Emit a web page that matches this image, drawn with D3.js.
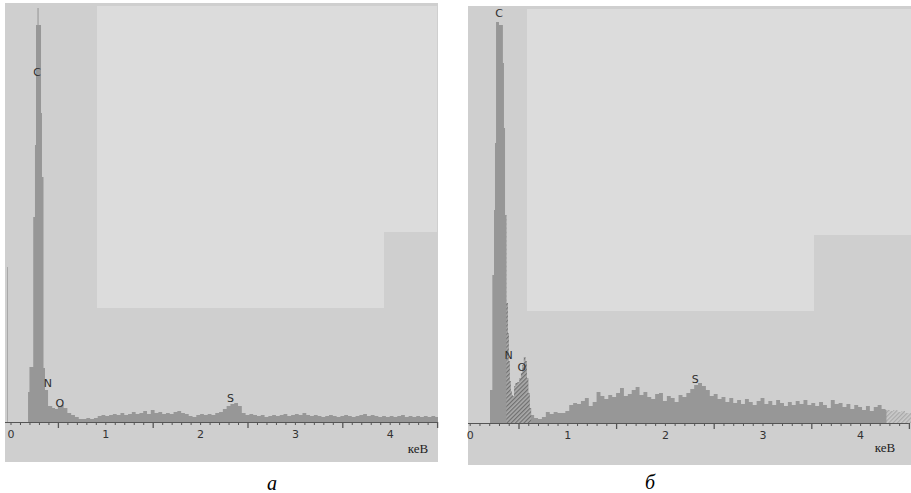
<!DOCTYPE html>
<html>
<head>
<meta charset="utf-8">
<script src="https://cdn.jsdelivr.net/npm/d3@7"></script>
<style>
body { margin: 0; background: #fff; }
</style>
</head>
<body>
<div id="chart"></div>
<script>
// spectrum (a): energy, keV / counts
const energyA = [0.185, 0.200, 0.240, 0.258, 0.269, 0.285, 0.296, 0.322, 0.332, 0.348, 0.364, 0.396, 0.44, 0.47, 0.50, 0.53, 0.56, 0.60, 0.64, 0.68,
    0.72, 0.76, 0.80, 0.84, 0.88, 0.92, 0.96, 1.00, 1.04, 1.08, 1.12, 1.16, 1.20, 1.24, 1.28, 1.32, 1.36, 1.40, 1.44, 1.48,
    1.52, 1.56, 1.60, 1.64, 1.68, 1.72, 1.76, 1.80, 1.84, 1.88, 1.92, 1.96, 2.00, 2.04, 2.08, 2.12, 2.16, 2.20, 2.24, 2.28,
    2.32, 2.36, 2.40, 2.44, 2.48, 2.52, 2.56, 2.60, 2.64, 2.68, 2.72, 2.76, 2.80, 2.84, 2.88, 2.92, 2.96, 3.00, 3.04, 3.08,
    3.12, 3.16, 3.20, 3.24, 3.28, 3.32, 3.36, 3.40, 3.44, 3.48, 3.52, 3.56, 3.60, 3.64, 3.68, 3.72, 3.76, 3.80, 3.84, 3.88,
    3.92, 3.96, 4.00, 4.04, 4.08, 4.12, 4.16, 4.20, 4.24, 4.28, 4.32, 4.36, 4.40, 4.44, 4.48];
const countsA = [150, 275, 1025, 1385, 1985, 2070, 1985, 1545, 1225, 270, 160, 80, 70, 65, 80, 85, 70, 45, 35, 25,
    15, 15, 20, 15, 20, 30, 35, 30, 35, 40, 35, 45, 35, 40, 50, 40, 45, 55, 40, 60,
    45, 50, 40, 45, 40, 50, 55, 45, 40, 30, 25, 35, 40, 35, 40, 35, 45, 50, 65, 80,
    90, 95, 80, 45, 35, 40, 35, 30, 35, 25, 30, 35, 30, 35, 40, 30, 35, 40, 35, 45,
    35, 30, 35, 30, 25, 30, 35, 30, 25, 30, 35, 30, 25, 30, 35, 40, 30, 35, 30, 25,
    30, 25, 30, 25, 30, 35, 25, 30, 25, 30, 25, 30, 25, 30, 25];

// spectrum (б)
const energyB = [0.208, 0.232, 0.249, 0.259, 0.270, 0.300, 0.340, 0.351, 0.362, 0.376, 0.390, 0.400, 0.410, 0.420, 0.430, 0.440,
    0.455, 0.470, 0.490, 0.510, 0.525, 0.540, 0.555, 0.570, 0.585, 0.600, 0.615, 0.630, 0.66, 0.70, 0.74,
    0.78, 0.82, 0.86, 0.90, 0.94, 0.98, 1.02, 1.06, 1.10, 1.14, 1.18, 1.22, 1.26, 1.30, 1.34, 1.38, 1.42, 1.46, 1.50, 1.54,
    1.58, 1.62, 1.66, 1.70, 1.74, 1.78, 1.82, 1.86, 1.90, 1.94, 1.98, 2.02, 2.06, 2.10, 2.14, 2.18, 2.22, 2.26, 2.30, 2.34,
    2.38, 2.42, 2.46, 2.50, 2.54, 2.58, 2.62, 2.66, 2.70, 2.74, 2.78, 2.82, 2.86, 2.90, 2.94, 2.98, 3.02, 3.06, 3.10, 3.14,
    3.18, 3.22, 3.26, 3.30, 3.34, 3.38, 3.42, 3.46, 3.50, 3.54, 3.58, 3.62, 3.66, 3.70, 3.74, 3.78, 3.82, 3.86, 3.90, 3.94,
    3.98, 4.02, 4.06, 4.10, 4.14, 4.18, 4.22, 4.26, 4.30, 4.34, 4.38, 4.42, 4.46, 4.50];
const countsB = [165, 740, 1065, 1400, 2005, 1990, 1800, 1475, 1040, 600, 450, 310, 210, 160, 140, 135,
    185, 200, 205, 225, 250, 290, 330, 310, 225, 150, 75, 40, 25, 20, 30,
    55, 45, 55, 50, 50, 60, 90, 100, 95, 110, 125, 85, 105, 155, 135, 120, 140, 130, 150, 175,
    135, 145, 165, 180, 140, 155, 130, 120, 145, 150, 110, 135, 125, 105, 140, 130, 150, 170, 190, 200,
    185, 165, 135, 145, 120, 130, 105, 125, 100, 115, 95, 120, 105, 90, 110, 125, 95, 110, 90, 115,
    100, 85, 105, 90, 110, 95, 115, 90, 100, 85, 105, 90, 75, 115, 95, 100, 80, 95, 70, 90,
    80, 65, 85, 60, 80, 90, 70, 65, 60, 65, 55, 60, 50, 50];

// element markers
const peakNamesA = ["C", "N", "O", "S"];
const peakEnergyA = [0.28, 0.395, 0.52, 2.32];
const peakCountsA = [1750, 195, 95, 120];
const peakNamesB = ["C", "N", "O", "S"];
const peakEnergyB = [0.30, 0.40, 0.535, 2.31];
const peakCountsB = [2050, 340, 280, 220];

const tickLabels = [0, 1, 2, 3, 4];
const unitLabel = "кеВ";

const W = 911, H = 493;

const svg = d3.select("#chart").append("svg")
    .attr("width", W)
    .attr("height", H)
    .style("display", "block");

const defs = svg.append("defs");

// hatch for the marked window
let hatch = defs.append("pattern")
    .attr("id", "hatchDark")
    .attr("patternUnits", "userSpaceOnUse")
    .attr("width", 3).attr("height", 3)
    .attr("patternTransform", "rotate(45)");
hatch.append("rect").attr("width", 3).attr("height", 3).attr("fill", "#aaaaaa");
hatch.append("rect").attr("width", 1.2).attr("height", 3).attr("fill", "#6e6e6e");

let hatchLight = defs.append("pattern")
    .attr("id", "hatchLight")
    .attr("patternUnits", "userSpaceOnUse")
    .attr("width", 3).attr("height", 3)
    .attr("patternTransform", "rotate(45)");
hatchLight.append("rect").attr("width", 3).attr("height", 3).attr("fill", "#c9c9c9");
hatchLight.append("rect").attr("width", 1.2).attr("height", 3).attr("fill", "#a9a9a9");

const panels = [
    {
        id: "a", energy: energyA, counts: countsA,
        names: peakNamesA, peakE: peakEnergyA, peakC: peakCountsA,
        box: {x: 5, y: 3, w: 433, h: 459},
        light: [[97, 6, 287, 302], [384, 6, 53, 226]],
        x0: 10.5, x45: 437.1, baseline: 422, eMax: 4.52,
        hatch: [], caption: "а", capX: 272, capY: 490, unitX: 418, unitY: 453,
        marker: true
    },
    {
        id: "b", energy: energyB, counts: countsB,
        names: peakNamesB, peakE: peakEnergyB, peakC: peakCountsB,
        box: {x: 468, y: 6, w: 443, h: 459},
        light: [[527, 9, 287, 302], [814, 9, 97, 226]],
        x0: 469.7, x45: 908.9, baseline: 423, eMax: 4.55,
        hatch: [[0.376, 0.63, "url(#hatchDark)"], [4.27, 4.55, "url(#hatchLight)"]],
        caption: "б", capX: 650, capY: 489, unitX: 885, unitY: 452,
        marker: false
    }
];

panels.forEach(drawPanel);

function drawPanel(p) {
    let g = svg.append("g").attr("class", "panel-" + p.id);

    g.append("rect")
        .attr("x", p.box.x).attr("y", p.box.y)
        .attr("width", p.box.w).attr("height", p.box.h)
        .attr("fill", "#cfcfcf");

    p.light.forEach(r => {
        g.append("rect")
            .attr("x", r[0]).attr("y", r[1])
            .attr("width", r[2]).attr("height", r[3])
            .attr("fill", "#dcdcdc");
    });

    let x = d3.scaleLinear().domain([0, 4.5]).range([p.x0, p.x45]);
    let y = d3.scaleLinear().domain([0, 2100]).range([p.baseline, p.baseline - 420]);

    let pts = p.energy.map((e, i) => ({e: e, c: p.counts[i]}));
    pts.push({e: p.eMax, c: p.counts[p.counts.length - 1]});

    let area = d3.area()
        .curve(d3.curveStepAfter)
        .x(d => x(d.e))
        .y0(y(0))
        .y1(d => y(d.c));

    let clipId = "clip-" + p.id;
    defs.append("clipPath").attr("id", clipId)
        .append("rect")
        .attr("x", p.box.x).attr("y", p.box.y)
        .attr("width", p.box.w).attr("height", p.box.h);

    let spec = g.append("g").attr("clip-path", "url(#" + clipId + ")");

    spec.append("path")
        .datum(pts)
        .attr("d", area)
        .attr("fill", "#979797");

    // hatched windows
    p.hatch.forEach((h, i) => {
        let hid = "hclip-" + p.id + i;
        defs.append("clipPath").attr("id", hid)
            .append("rect")
            .attr("x", x(h[0])).attr("y", p.box.y)
            .attr("width", x(h[1]) - x(h[0])).attr("height", p.baseline - p.box.y);
        spec.append("path")
            .datum(pts)
            .attr("d", area)
            .attr("clip-path", "url(#" + hid + ")")
            .attr("fill", h[2]);
    });

    if (p.marker) {
        g.append("line")
            .attr("x1", p.box.x + 2.5).attr("x2", p.box.x + 2.5)
            .attr("y1", 267).attr("y2", p.baseline)
            .attr("stroke", "#a9a9a9").attr("stroke-width", 1);
    }

    // axis
    let axisG = g.append("g").attr("transform", "translate(0," + p.baseline + ")");
    axisG.append("line")
        .attr("x1", p.box.x).attr("x2", x(4.5))
        .attr("y1", 0.5).attr("y2", 0.5)
        .attr("stroke", "#555").attr("stroke-width", 1.2);

    let minor = d3.range(1, 45).map(i => i / 10).filter(v => Math.round(v * 10) % 5 !== 0);
    let half = [0.5, 1.5, 2.5, 3.5, 4.5];

    axisG.append("g")
        .call(d3.axisBottom(x).tickValues(minor).tickSize(3).tickSizeOuter(0).tickFormat(""))
        .call(a => a.select(".domain").remove())
        .selectAll("line").attr("stroke", "#555");

    axisG.append("g")
        .call(d3.axisBottom(x).tickValues(half).tickSize(6).tickSizeOuter(0).tickFormat(""))
        .call(a => a.select(".domain").remove())
        .selectAll("line").attr("stroke", "#555").attr("stroke-width", 1.3);

    axisG.append("g")
        .call(d3.axisBottom(x).tickValues(tickLabels).tickSize(3).tickSizeOuter(0).tickPadding(5)
            .tickFormat(d3.format("d")))
        .call(a => a.select(".domain").remove())
        .call(a => a.selectAll("line").attr("stroke", "#555"))
        .selectAll("text")
        .attr("fill", "#333")
        .style("font-family", "DejaVu Sans, sans-serif")
        .style("font-size", "11px");

    // element labels
    g.selectAll(".peak-label")
        .data(p.names)
        .enter().append("text")
        .attr("class", "peak-label")
        .attr("x", (d, i) => x(p.peakE[i]))
        .attr("y", (d, i) => y(p.peakC[i]))
        .attr("text-anchor", "middle")
        .attr("dominant-baseline", "central")
        .attr("fill", "#2e2e2e")
        .style("font-family", "DejaVu Sans, sans-serif")
        .style("font-size", "11px")
        .text(d => d);

    g.append("text")
        .attr("x", p.unitX).attr("y", p.unitY)
        .attr("text-anchor", "middle")
        .attr("fill", "#222")
        .style("font-family", "Liberation Serif, serif")
        .style("font-size", "13px")
        .text(unitLabel);

    svg.append("text")
        .attr("x", p.capX).attr("y", p.capY)
        .attr("text-anchor", "middle")
        .attr("fill", "#000")
        .style("font-family", "Liberation Serif, serif")
        .style("font-style", "italic")
        .style("font-size", "20px")
        .text(p.caption);
}
</script>
</body>
</html>
